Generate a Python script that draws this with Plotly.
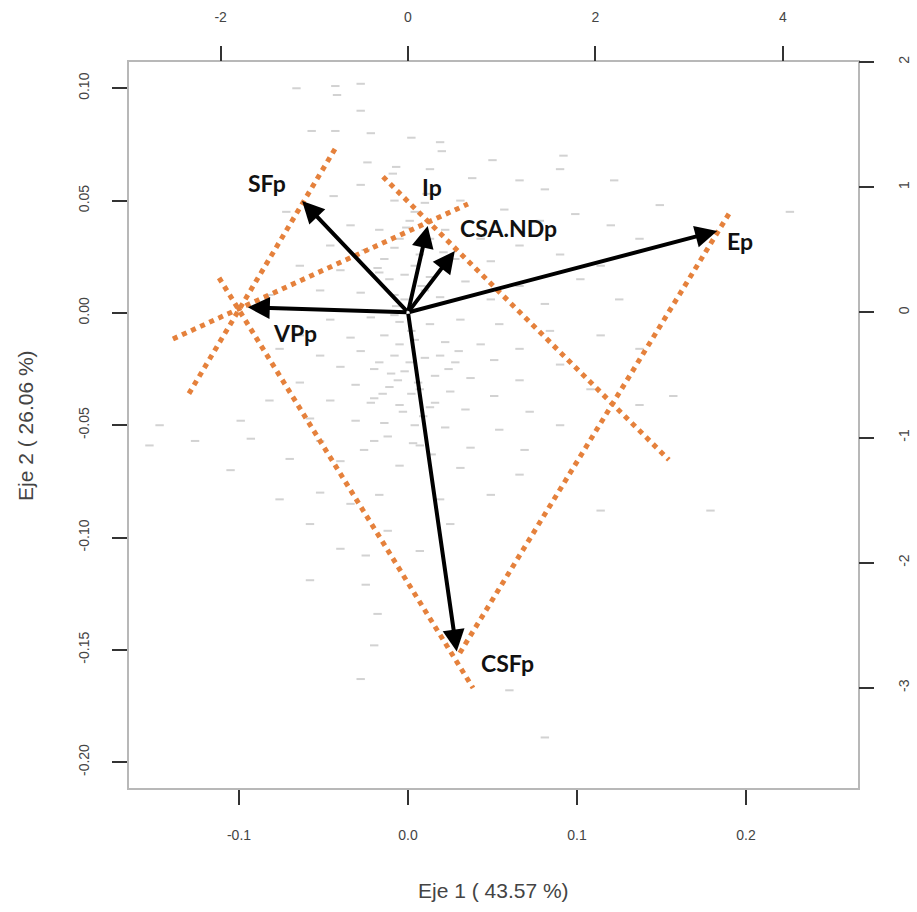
import plotly.graph_objects as go

# --- sample scores (primary axes: Eje 1 / Eje 2) ---
pts_x = [-0.066,-0.043,-0.028,-0.042,-0.028,-0.057,-0.043,-0.022,0.002,0.019,0.020,0.050,0.092,
         -0.024,-0.007,0.013,0.038,0.066,0.081,-0.028,-0.072,-0.044,-0.008,0.010,0.031,0.057,0.078,
         0.099,0.120,0.137,0.226,-0.034,-0.017,0.001,0.022,0.043,0.066,0.090,0.114,-0.046,-0.025,
         -0.008,0.007,0.028,0.049,-0.064,-0.040,-0.017,-0.002,0.013,0.034,0.066,0.102,-0.082,-0.052,
         -0.028,-0.008,0.019,0.049,0.081,0.125,
         -0.046,-0.022,-0.005,0.013,0.031,0.054,0.084,0.114,-0.064,-0.034,-0.014,0.004,0.022,0.043,
         0.066,0.137,-0.076,-0.052,-0.028,-0.008,0.010,0.028,0.051,0.090,-0.040,-0.020,-0.002,0.016,
         0.037,0.066,-0.064,-0.031,-0.011,0.007,0.025,0.051,0.108,-0.082,-0.046,-0.022,-0.005,0.013,
         0.034,0.072,-0.099,-0.058,-0.031,-0.014,0.004,0.022,0.054,0.090,-0.147,-0.153,-0.126,-0.093,
         -0.052,-0.020,0.007,0.037,0.069,-0.105,-0.070,-0.040,-0.005,0.031,0.066,-0.076,-0.052,-0.017,
         0.019,0.049,-0.034,0.114,-0.058,-0.012,0.025,-0.040,-0.025,0.007,-0.058,-0.025,-0.018,-0.020,
         -0.028,0.060,0.081,0.179,0.157,0.137,0.149,0.122,0.090,
         -0.002,0.001,-0.008,0.002,-0.005,0.001,-0.006,0.002,-0.017,0.019,0.010,-0.011,0.004,-0.014,
         -0.005,0.013,0.004,
         -0.010,0.006,-0.015,0.016,-0.003,0.009,-0.020,0.024,-0.012,0.003,0.014,-0.026,0.030,-0.007,
         0.008,-0.018,0.021,-0.001,0.011,-0.009]
pts_y = [0.100,0.101,0.102,0.097,0.090,0.081,0.081,0.080,0.078,0.076,0.072,0.068,0.070,
         0.067,0.065,0.064,0.060,0.059,0.055,0.057,0.045,0.052,0.050,0.049,0.050,0.046,0.041,
         0.044,0.039,0.033,0.045,0.039,0.037,0.041,0.037,0.033,0.030,0.026,0.021,0.030,0.028,
         0.029,0.026,0.024,0.023,0.021,0.019,0.018,0.017,0.016,0.014,0.012,0.015,0.008,0.010,
         0.009,0.008,0.007,0.006,0.004,0.006,
         -0.003,-0.002,-0.004,-0.005,-0.003,-0.005,-0.008,-0.010,-0.010,-0.011,-0.010,-0.012,-0.013,-0.014,
         -0.016,-0.016,-0.016,-0.019,-0.017,-0.019,-0.020,-0.022,-0.021,-0.023,-0.024,-0.025,-0.026,-0.028,
         -0.029,-0.030,-0.031,-0.032,-0.033,-0.034,-0.035,-0.037,-0.034,-0.039,-0.039,-0.040,-0.041,-0.042,
         -0.043,-0.044,-0.048,-0.047,-0.048,-0.049,-0.050,-0.051,-0.052,-0.050,-0.050,-0.059,-0.057,-0.056,
         -0.057,-0.057,-0.059,-0.060,-0.061,-0.070,-0.065,-0.066,-0.068,-0.069,-0.072,-0.083,-0.080,-0.081,
         -0.083,-0.081,-0.085,-0.088,-0.094,-0.097,-0.094,-0.105,-0.108,-0.106,-0.119,-0.121,-0.134,-0.148,
         -0.163,-0.168,-0.189,-0.088,-0.037,-0.041,0.048,0.059,0.064,
         0.006,0.001,-0.001,-0.008,-0.014,-0.022,-0.030,-0.036,-0.022,-0.019,0.010,0.015,0.021,0.024,
         0.033,0.033,0.045,
         -0.027,-0.031,-0.036,-0.040,-0.044,-0.046,-0.038,-0.025,-0.055,-0.058,-0.063,-0.061,-0.017,0.003,
         0.012,0.020,0.027,0.038,0.053,0.062]

# --- variable loadings (secondary axes) ---
var_names = ["Ep", "SFp", "Ip", "CSA.NDp", "VPp", "CSFp"]
load_x = [3.30, -1.13, 0.21, 0.50, -1.71, 0.52]
load_y = [0.65, 0.89, 0.69, 0.49, 0.04, -2.71]

# label positions (primary axes)
lab_x = [0.1964, -0.0834, 0.0142, 0.0592, -0.0669, 0.0586]
lab_y = [0.0321, 0.0579, 0.0561, 0.0378, -0.0089, -0.1558]

# --- hand-drawn dotted guide lines (primary axes), [x0, x1], [y0, y1] ---
guide_x = [[-0.0432, -0.1308], [-0.1118, 0.0385], [-0.1391, 0.0355], [-0.0148, 0.1544], [0.1899, 0.0296]]
guide_y = [[0.0730, -0.0374], [0.0156, -0.1670], [-0.0116, 0.0485], [0.0606, -0.0654], [0.0441, -0.1527]]

x_ticks = [-0.1, 0.0, 0.1, 0.2]
y_ticks = [-0.20, -0.15, -0.10, -0.05, 0.00, 0.05, 0.10]
x2_ticks = [-2, 0, 2, 4]
y2_ticks = [-3, -2, -1, 0, 1, 2]

ORANGE = "#E5813C"
fig = go.Figure()

fig.add_trace(go.Scatter(
    x=pts_x, y=pts_y, mode="markers",
    marker=dict(symbol="line-ew", size=6, line=dict(width=2, color="#d2d2d2")),
    hoverinfo="skip", showlegend=False))

for gx, gy in zip(guide_x, guide_y):
    fig.add_trace(go.Scatter(
        x=gx, y=gy, mode="lines",
        line=dict(color=ORANGE, width=5, dash="dot"),
        hoverinfo="skip", showlegend=False))

# invisible trace to activate secondary axes
fig.add_trace(go.Scatter(
    x=load_x, y=load_y, xaxis="x2", yaxis="y2", mode="markers",
    marker=dict(opacity=0), hoverinfo="skip", showlegend=False))

annotations = []
for lx, ly in zip(load_x, load_y):
    annotations.append(dict(
        x=lx, y=ly, ax=0, ay=0, xref="x2", yref="y2", axref="x2", ayref="y2",
        text="", showarrow=True, arrowhead=2, arrowsize=1.1, arrowwidth=4,
        arrowcolor="black", standoff=0, startstandoff=0))

for name, tx, ty in zip(var_names, lab_x, lab_y):
    annotations.append(dict(
        x=tx, y=ty, xref="x", yref="y", text="<b>%s</b>" % name, showarrow=False,
        font=dict(family="Lato, Open Sans, sans-serif", size=23, color="#111111"),
        xanchor="center", yanchor="middle"))

annotations.append(dict(
    x=0.5, y=-0.1405, xref="paper", yref="paper", text="Eje 1 ( 43.57 %)",
    showarrow=False, xanchor="center", yanchor="middle",
    font=dict(family="Liberation Sans, Arial, sans-serif", size=21, color="#444444")))
annotations.append(dict(
    x=-0.1427, y=0.5, xref="paper", yref="paper", text="Eje 2 ( 26.06 %)",
    showarrow=False, xanchor="center", yanchor="middle", textangle=-90,
    font=dict(family="Liberation Sans, Arial, sans-serif", size=21, color="#444444")))

tickfont = dict(family="Liberation Sans, Arial, sans-serif", size=14, color="#444444")
common = dict(showgrid=False, zeroline=False, ticks="outside", ticklen=15, tickwidth=1.5,
              tickcolor="#333333", tickfont=tickfont, ticklabelstandoff=18, automargin=False)

fig.update_layout(
    width=917, height=912,
    margin=dict(l=129, r=59, t=62, b=124, autoexpand=False),
    paper_bgcolor="white", plot_bgcolor="white",
    xaxis=dict(range=[-0.1651, 0.2663], tickvals=x_ticks,
               ticktext=["%.1f" % v for v in x_ticks],
               showline=True, linecolor="#b8b8b8", linewidth=1.5, mirror=True, **common),
    yaxis=dict(range=[-0.2115, 0.1117], tickvals=y_ticks,
               ticktext=["%.2f" % v for v in y_ticks], tickangle=-90,
               showline=True, linecolor="#b8b8b8", linewidth=1.5, mirror=True, **common),
    xaxis2=dict(range=[-2.978, 4.803], overlaying="x", side="top", tickvals=x2_ticks,
                ticktext=[str(v) for v in x2_ticks], showline=False, **common),
    yaxis2=dict(range=[-3.8, 2.0], overlaying="y", side="right", tickvals=y2_ticks,
                ticktext=[str(v) for v in y2_ticks], tickangle=-90, showline=False, **common),
    annotations=annotations,
)

fig.write_html("out.html", config={"displayModeBar": False},
               post_script="document.body.style.margin='0px';")
